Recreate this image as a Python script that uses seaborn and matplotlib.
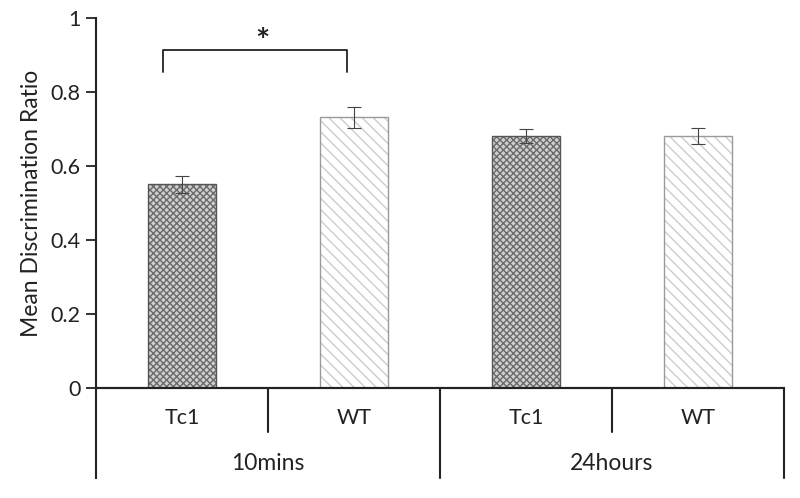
import matplotlib
matplotlib.use("Agg")
import matplotlib.pyplot as plt
import matplotlib.transforms as mtransforms
import seaborn as sns
import pandas as pd

# values
groups = ["10mins", "10mins", "24hours", "24hours"]
strains = ["Tc1", "WT", "Tc1", "WT"]
means = [0.55, 0.732, 0.681, 0.681]
errs = [0.022, 0.028, 0.02, 0.021]

sns.set_theme(style="white")
plt.rcParams["font.family"] = ["Lato", "DejaVu Sans"]

df = pd.DataFrame({"cond": [f"{s} {g}" for s, g in zip(strains, groups)], "mean": means})

fig = plt.figure(figsize=(8, 4.98), dpi=100)
ax = fig.add_axes([0.12, 0.2209, 0.86, 0.743])

sns.barplot(data=df, x="cond", y="mean", width=0.4, ax=ax, errorbar=None,
            color="white", saturation=1)

# hatch styling (edgecolor drives hatch colour)
plt.rcParams["hatch.linewidth"] = 0.9
for p, s in zip(ax.patches, strains):
    if s == "Tc1":
        p.set_facecolor("#cfcfcf")
        p.set_edgecolor("#6a6a6a")
        p.set_hatch("xxxxx")
    else:
        p.set_facecolor("white")
        p.set_edgecolor("#cccccc")
        p.set_hatch("\\\\\\")
    p.set_linewidth(0)

# outlines
ax.bar(range(4), means, width=0.4, fill=False,
       edgecolor=["#555555" if s == "Tc1" else "#9a9a9a" for s in strains], linewidth=1)

ax.errorbar(range(4), means, yerr=errs, fmt="none", ecolor="#444444",
            elinewidth=0.8, capsize=5, capthick=0.8)

ax.set_xlim(-0.5, 3.5)
ax.set_ylim(0, 1)
ax.set_yticks([0, 0.2, 0.4, 0.6, 0.8, 1])
ax.set_yticklabels(["0", "0.2", "0.4", "0.6", "0.8", "1"], fontsize=15.5, color="#222222")
ax.set_ylabel("Mean Discrimination Ratio", fontsize=16.5, color="#222222", labelpad=6)
ax.set_xlabel("")
ax.set_xticks([])
ax.tick_params(axis="y", left=True, length=7, width=1.3, color="#222222", pad=4)

for side in ["top", "right"]:
    ax.spines[side].set_visible(False)
ax.spines["left"].set_color("#222222")
ax.spines["left"].set_linewidth(1.5)
ax.spines["bottom"].set_color("#222222")
ax.spines["bottom"].set_linewidth(1.5)
ax.spines["left"].set_bounds(-0.243, 1)

# hierarchical x labels
trans = mtransforms.blended_transform_factory(ax.transData, ax.transAxes)
lc = "#222222"
ax.plot([-0.5, 3.5], [0, 0], transform=trans, color=lc, lw=1.5, clip_on=False)
for xv, y1 in [(0.5, -0.119), (2.5, -0.119), (1.5, -0.243), (3.5, -0.243)]:
    ax.plot([xv, xv], [0, y1], transform=trans, color=lc, lw=1.5, clip_on=False)
for i, s in enumerate(strains):
    ax.text(i, -0.081, s, transform=trans, ha="center", va="center", fontsize=15.5, color="#222222")
ax.text(0.5, -0.203, "10mins", transform=trans, ha="center", va="center", fontsize=16.5, color="#222222")
ax.text(2.5, -0.203, "24hours", transform=trans, ha="center", va="center", fontsize=16.5, color="#222222")

# significance bracket
ax.plot([-0.11, -0.11, 0.96, 0.96], [0.855, 0.914, 0.914, 0.855], color="#222222", lw=1.3, clip_on=False)
ax.text(0.47, 0.935, "*", ha="center", va="center", fontsize=24, fontweight="bold", color="#222222")

fig.savefig("out.png", dpi=100)
